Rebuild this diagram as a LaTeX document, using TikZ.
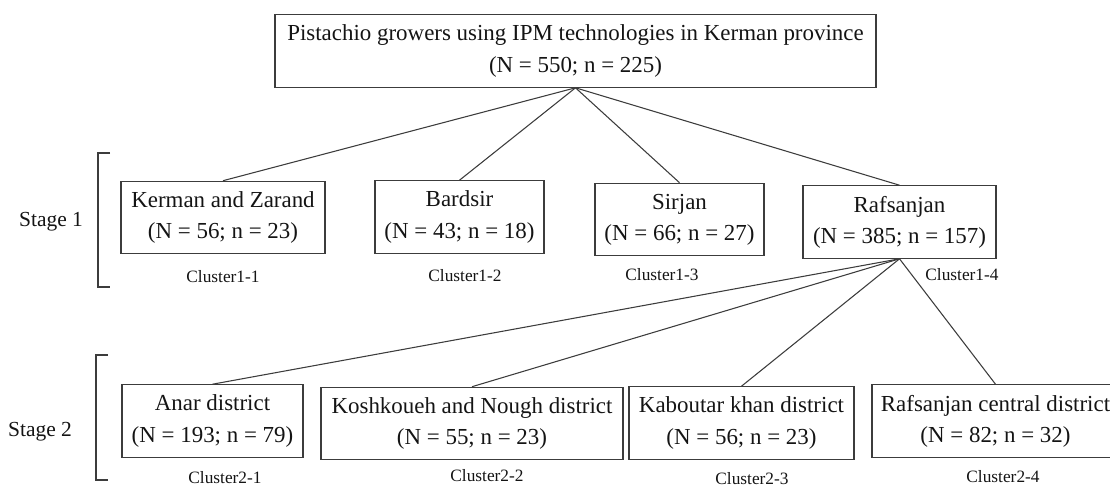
\documentclass[tikz,border=0pt]{standalone}
\usepackage{fontspec}
\setmainfont{Liberation Serif}
\usetikzlibrary{positioning}
\definecolor{mygray}{RGB}{60,60,60}
\definecolor{mytext}{RGB}{20,20,20}

\begin{document}
\begin{tikzpicture}[x=0.75pt, y=-0.75pt,
    box/.style={draw=mygray, line width=0.8pt, align=center, inner sep=2pt, text=mytext,
                font=\fontsize{17.2}{23.3}\selectfont, minimum height=54.4pt},
    clabel/.style={text=mytext, font=\fontsize{13}{15}\selectfont, inner sep=0pt},
    stagelbl/.style={text=mytext, font=\fontsize{16.1}{19}\selectfont, inner sep=0pt},
    link/.style={draw=mygray, line width=0.8pt},
    bracket/.style={draw=mygray, line width=0.8pt}]
    \useasboundingbox (0,0) rectangle (1110,490);

    % Whole population
    \node[box, minimum width=450.75pt] (province) at (575.5,51)
        {Pistachio growers using IPM technologies in Kerman province\\(N = 550; n = 225)};

    % Stage 1 clusters
    \node[box, minimum width=153pt] (kerman_zarand) at (223,217.5) {Kerman and Zarand\\(N = 56; n = 23)};
    \node[box, minimum width=126.75pt] (bardsir) at (459.5,217) {Bardsir\\(N = 43; n = 18)};
    \node[box, minimum width=126.75pt] (sirjan) at (679.5,219.5) {Sirjan\\(N = 66; n = 27)};
    \node[box, minimum width=144.75pt] (rafsanjan) at (899.5,222) {Rafsanjan\\(N = 385; n = 157)};

    \node[clabel] (cl11) at (223,277) {Cluster1-1};
    \node[clabel] (cl12) at (465,276) {Cluster1-2};
    \node[clabel] (cl13) at (662,275) {Cluster1-3};
    \node[clabel] (cl14) at (962,275) {Cluster1-4};

    % Stage 2 clusters (inside Rafsanjan)
    \node[box, minimum width=135.75pt] (anar) at (212.5,421) {Anar district\\(N = 193; n = 79)};
    \node[box, minimum width=226.5pt] (koshkoueh) at (472,423.5) {Koshkoueh and Nough district\\(N = 55; n = 23)};
    \node[box, minimum width=168.75pt] (kaboutar) at (741.5,423) {Kaboutar khan district\\(N = 56; n = 23)};
    \node[box, minimum width=185.25pt] (rafs_central) at (995.5,421) {Rafsanjan central district\\(N = 82; n = 32)};

    \node[clabel] (cl21) at (225,478) {Cluster2-1};
    \node[clabel] (cl22) at (487,476) {Cluster2-2};
    \node[clabel] (cl23) at (752,479) {Cluster2-3};
    \node[clabel] (cl24) at (1003,477) {Cluster2-4};

    % Links
    \foreach \c in {kerman_zarand, bardsir, sirjan, rafsanjan}
        \draw[link] (province.south) -- (\c.north);
    \foreach \c in {anar, koshkoueh, kaboutar, rafs_central}
        \draw[link] (rafsanjan.south) -- (\c.north);

    % Stage labels and brackets
    \node[stagelbl] (stage1) at (51,222) {Stage 1};
    \node[stagelbl] (stage2) at (40,432) {Stage 2};
    \draw[bracket] (110,153) -- (98,153) -- (98,287) -- (110,287);
    \draw[bracket] (108,355) -- (96,355) -- (96,480) -- (108,480);
\end{tikzpicture}
\end{document}
